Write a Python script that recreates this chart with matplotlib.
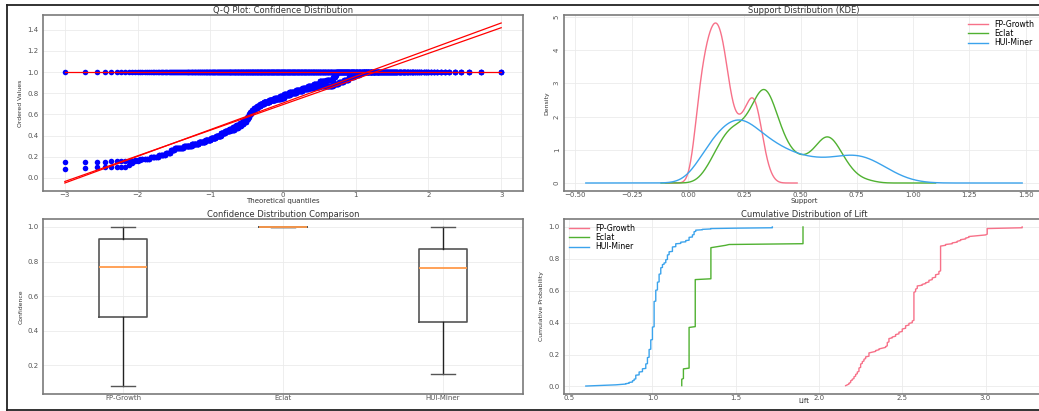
import numpy as np
import matplotlib.pyplot as plt
from matplotlib import font_manager
from matplotlib.lines import Line2D
from statistics import NormalDist

algos = ["FP-Growth", "Eclat", "HUI-Miner"]
colors = ["#f77189", "#50b131", "#3ba3ec"]

# confidence of the mined rules (value, how many rules)
fp_conf_vals = [0.08, 0.09, 0.10, 0.12, 0.14, 0.16, 0.18, 0.20, 0.22, 0.24, 0.26, 0.28, 0.30, 0.32,
                0.34, 0.36, 0.38, 0.40, 0.42, 0.44, 0.46, 0.48, 0.50, 0.52, 0.54, 0.56, 0.58, 0.60,
                0.62, 0.64, 0.66, 0.68, 0.70, 0.72, 0.74, 0.76, 0.77, 0.79, 0.81, 0.83, 0.85, 0.87,
                0.89, 0.92, 0.93, 0.95, 0.97, 1.00]
fp_conf_counts = [1, 1, 6, 1, 1, 2, 5, 5, 5, 4, 4, 9, 9, 10, 9, 10, 9, 9, 8, 9, 8, 8, 8, 7, 7, 4,
                  4, 4, 4, 5, 8, 8, 10, 15, 15, 15, 12, 15, 18, 18, 15, 15, 15, 16, 16, 5, 3, 118]
ec_conf_vals = [1.00]
ec_conf_counts = [513]
hui_conf_vals = [0.15, 0.16, 0.17, 0.18, 0.20, 0.22, 0.24, 0.26, 0.28, 0.30, 0.32, 0.34, 0.36, 0.38,
                 0.40, 0.42, 0.44, 0.45, 0.47, 0.49, 0.51, 0.53, 0.56, 0.58, 0.60, 0.62, 0.64, 0.66,
                 0.68, 0.70, 0.72, 0.74, 0.75, 0.76, 0.78, 0.80, 0.82, 0.84, 0.85, 0.86, 0.865, 0.87,
                 0.89, 0.91, 0.93, 0.95, 0.97, 0.99, 1.00]
hui_conf_counts = [4, 6, 3, 4, 5, 5, 4, 4, 9, 10, 9, 10, 9, 9, 10, 9, 9, 10, 8, 7, 7, 6, 4, 4, 4, 4,
                   5, 8, 8, 10, 15, 16, 15, 10, 16, 18, 17, 15, 14, 15, 16, 16, 12, 10, 10, 10, 9, 5, 70]

# support of the itemsets
fp_sup_vals = [0.02, 0.04, 0.06, 0.08, 0.10, 0.12, 0.14, 0.16, 0.18, 0.20, 0.22, 0.24, 0.26, 0.28,
               0.30, 0.32, 0.34, 0.36, 0.38]
fp_sup_counts = [6, 26, 38, 46, 52, 55, 54, 47, 34, 23, 21, 22, 25, 31, 30, 22, 10, 4, 1]
ec_sup_vals = [0.06, 0.08, 0.10, 0.12, 0.14, 0.16, 0.18, 0.20, 0.22, 0.24, 0.26, 0.28, 0.30, 0.32,
               0.34, 0.36, 0.38, 0.40, 0.42, 0.44, 0.46, 0.48, 0.50, 0.52, 0.54, 0.56, 0.58, 0.60,
               0.62, 0.64, 0.66, 0.68, 0.70, 0.72, 0.74, 0.76, 0.78, 0.80, 0.82]
ec_sup_counts = [2, 4, 7, 10, 13, 16, 18, 19, 19, 19, 20, 23, 27, 32, 36, 32, 26, 20, 16, 12, 10, 9,
                 8, 8, 9, 10, 13, 16, 18, 16, 13, 10, 7, 5, 3, 2, 1, 1, 1]
hui_sup_vals = [0.06, 0.10, 0.14, 0.18, 0.22, 0.26, 0.30, 0.34, 0.38, 0.42, 0.46, 0.50, 0.54, 0.58,
                0.62, 0.66, 0.70, 0.74, 0.78, 0.82, 0.86, 0.90, 0.94, 0.98, 1.02]
hui_sup_counts = [22, 26, 33, 40, 44, 41, 34, 29, 25, 22, 19, 17, 16, 15, 15, 16, 18, 18, 18, 15, 11,
                  8, 4, 2, 1]

# lift of the rules
fp_lift_vals = [2.16, 2.17, 2.18, 2.19, 2.20, 2.21, 2.22, 2.23, 2.24, 2.25, 2.26, 2.27, 2.28, 2.30,
                2.32, 2.34, 2.36, 2.38, 2.40, 2.41, 2.42, 2.44, 2.46, 2.48, 2.50, 2.52, 2.54, 2.56,
                2.57, 2.58, 2.59, 2.62, 2.64, 2.66, 2.68, 2.70, 2.72, 2.73, 2.76, 2.80, 2.83, 2.85,
                2.88, 2.90, 2.95, 3.00, 3.01, 3.22]
fp_lift_counts = [1, 1, 2, 3, 2, 3, 3, 3, 5, 5, 3, 3, 3, 5, 1, 2, 2, 1, 2, 5, 5, 2, 3, 3, 4, 4, 3, 3,
                  36, 4, 4, 2, 2, 3, 3, 4, 4, 32, 2, 2, 2, 2, 2, 2, 1, 1, 8, 2]
ec_lift_vals = [1.176, 1.186, 1.220, 1.257, 1.351, 1.38, 1.41, 1.44, 1.46, 1.904]
ec_lift_counts = [9, 13, 52, 60, 40, 1, 1, 1, 1, 22]
hui_lift_vals = [0.60, 0.66, 0.72, 0.78, 0.81, 0.84, 0.86, 0.88, 0.89, 0.90, 0.92, 0.94, 0.96, 0.97,
                 0.98, 0.99, 1.00, 1.01, 1.02, 1.03, 1.04, 1.05, 1.06, 1.07, 1.08, 1.09, 1.10, 1.12,
                 1.14, 1.17, 1.20, 1.22, 1.24, 1.25, 1.26, 1.30, 1.35, 1.50, 1.72]
hui_lift_counts = [1, 1, 1, 1, 1, 2, 3, 4, 4, 10, 8, 8, 12, 16, 20, 24, 32, 64, 28, 20, 20, 16, 8, 4,
                   8, 12, 8, 12, 8, 4, 4, 8, 6, 8, 4, 2, 2, 1, 3]

conf = [np.repeat(fp_conf_vals, fp_conf_counts), np.repeat(ec_conf_vals, ec_conf_counts),
        np.repeat(hui_conf_vals, hui_conf_counts)]
sup = [(fp_sup_vals, fp_sup_counts), (ec_sup_vals, ec_sup_counts), (hui_sup_vals, hui_sup_counts)]
lift = [np.repeat(fp_lift_vals, fp_lift_counts), np.repeat(ec_lift_vals, ec_lift_counts),
        np.repeat(hui_lift_vals, hui_lift_counts)]

# kde settings per algorithm (bandwidth, grid start, grid end)
kde_bw = [0.021, 0.035, 0.06]
kde_grid = [(-0.10, 0.485), (-0.12, 1.10), (-0.454, 1.485)]


def probplot_xy(data):
    y = np.sort(data)
    n = len(y)
    m = (np.arange(1, n + 1) - 0.3175) / (n + 0.365)
    m[-1] = 0.5 ** (1.0 / n)
    m[0] = 1 - m[-1]
    nd = NormalDist()
    x = np.array([nd.inv_cdf(p) for p in m])
    return x, y


def kde(vals, counts, bw, lo, hi):
    v = np.asarray(vals, float)
    w = np.asarray(counts, float)
    w = w / w.sum()
    g = np.linspace(lo, hi, 400)
    z = (g[:, None] - v[None, :]) / bw
    return g, (w * np.exp(-0.5 * z * z)).sum(axis=1) / (bw * np.sqrt(2 * np.pi))


plt.rcParams["font.family"] = "DejaVu Sans"
installed = {f.name for f in font_manager.fontManager.ttflist}
narrow = "Liberation Sans Narrow" if "Liberation Sans Narrow" in installed else "DejaVu Sans"

fig = plt.figure(figsize=(10.39, 4.11), dpi=100)

W, H = 1039.0, 411.0
def box(x0, y0, x1, y1):
    return [x0 / W, 1 - y1 / H, (x1 - x0) / W, (y1 - y0) / H]

ax1 = fig.add_axes(box(43, 15, 523, 191))
ax2 = fig.add_axes(box(564, 15, 1044, 191))
ax3 = fig.add_axes(box(43, 219, 523, 394))
ax4 = fig.add_axes(box(564, 219, 1044, 394))

for ax in (ax1, ax2, ax3, ax4):
    ax.set_facecolor("white")
    ax.grid(True, color="#ebebeb", linewidth=0.6)
    ax.set_axisbelow(True)
    for s in ax.spines.values():
        s.set_color("#7a7a7a")
        s.set_linewidth(1.2)
    ax.tick_params(length=0, labelsize=5, labelcolor="#555555")
    ax.tick_params(axis="x", pad=0.5)
    ax.tick_params(axis="y", pad=3)

title_kw = dict(fontsize=6, color="#333333", pad=0.5)
ylab_kw = dict(fontsize=4.4, color="#333333", family=narrow, labelpad=3)
xlab_kw = dict(fontsize=5, color="#333333", labelpad=0)
leg_kw = dict(fontsize=5.6, frameon=False, handlelength=2.6, handletextpad=0.8,
              borderaxespad=0.2, labelspacing=0.05)

# Q-Q plot
fits = []
for d in conf:
    x, y = probplot_xy(d)
    ax1.plot(x, y, "o", color="blue", markersize=4, markeredgewidth=0)
    slope, inter = np.polyfit(x, y, 1)
    fits.append((x, slope * x + inter))
for x, yf in fits:
    ax1.plot(x, yf, "r-", linewidth=0.9)
ax1.set_title("Q-Q Plot: Confidence Distribution", **title_kw)
ax1.set_xlabel("Theoretical quantiles", **xlab_kw)
ax1.set_ylabel("Ordered Values", **ylab_kw)

# KDE of support
for (vals, cnts), bw, (lo, hi), name, c in zip(sup, kde_bw, kde_grid, algos, colors):
    g, dens = kde(vals, cnts, bw, lo, hi)
    ax2.plot(g, dens, color=c, linewidth=1.0, label=name)
ax2.set_title("Support Distribution (KDE)", **title_kw)
ax2.set_xlabel("Support", **xlab_kw)
ax2.set_ylabel("Density", **ylab_kw)
ax2.tick_params(axis="y", labelrotation=90)
ax2.legend(loc="upper right", bbox_to_anchor=(0.99, 1.0), **leg_kw)

# boxplot of confidence
ax3.boxplot(conf, tick_labels=algos,
            boxprops=dict(color="#555555", linewidth=1.2),
            whiskerprops=dict(color="#222222", linewidth=1.0),
            capprops=dict(color="#555555", linewidth=1.0),
            medianprops=dict(color="#ff9a4a", linewidth=1.3, zorder=3),
            flierprops=dict(marker="o", markersize=3))
ax3.set_title("Confidence Distribution Comparison", **title_kw)
ax3.set_ylabel("Confidence", **ylab_kw)

# cumulative distribution of lift
for d, name, c in zip(lift, algos, colors):
    xs = np.sort(d)
    ys = np.arange(1, len(xs) + 1) / len(xs)
    ax4.plot(xs, ys, color=c, linewidth=1.0, label=name)
ax4.set_title("Cumulative Distribution of Lift", **title_kw)
ax4.set_xlabel("Lift", fontsize=5, color="#333333", labelpad=-2)
ax4.set_ylabel("Cumulative Probability", **ylab_kw)
ax4.legend(loc="upper left", **leg_kw)

# screenshot frame
fx0, fy0, fy1 = 6.5 / W, 1 - 409.5 / H, 1 - 5.0 / H
for xs, ys in (([fx0, 1.0], [fy1, fy1]), ([fx0, fx0], [fy0, fy1]), ([fx0, 1.0], [fy0, fy0])):
    fig.add_artist(Line2D(xs, ys, transform=fig.transFigure, color="#222222", linewidth=1.3))

fig.savefig("out.png", dpi=100)
